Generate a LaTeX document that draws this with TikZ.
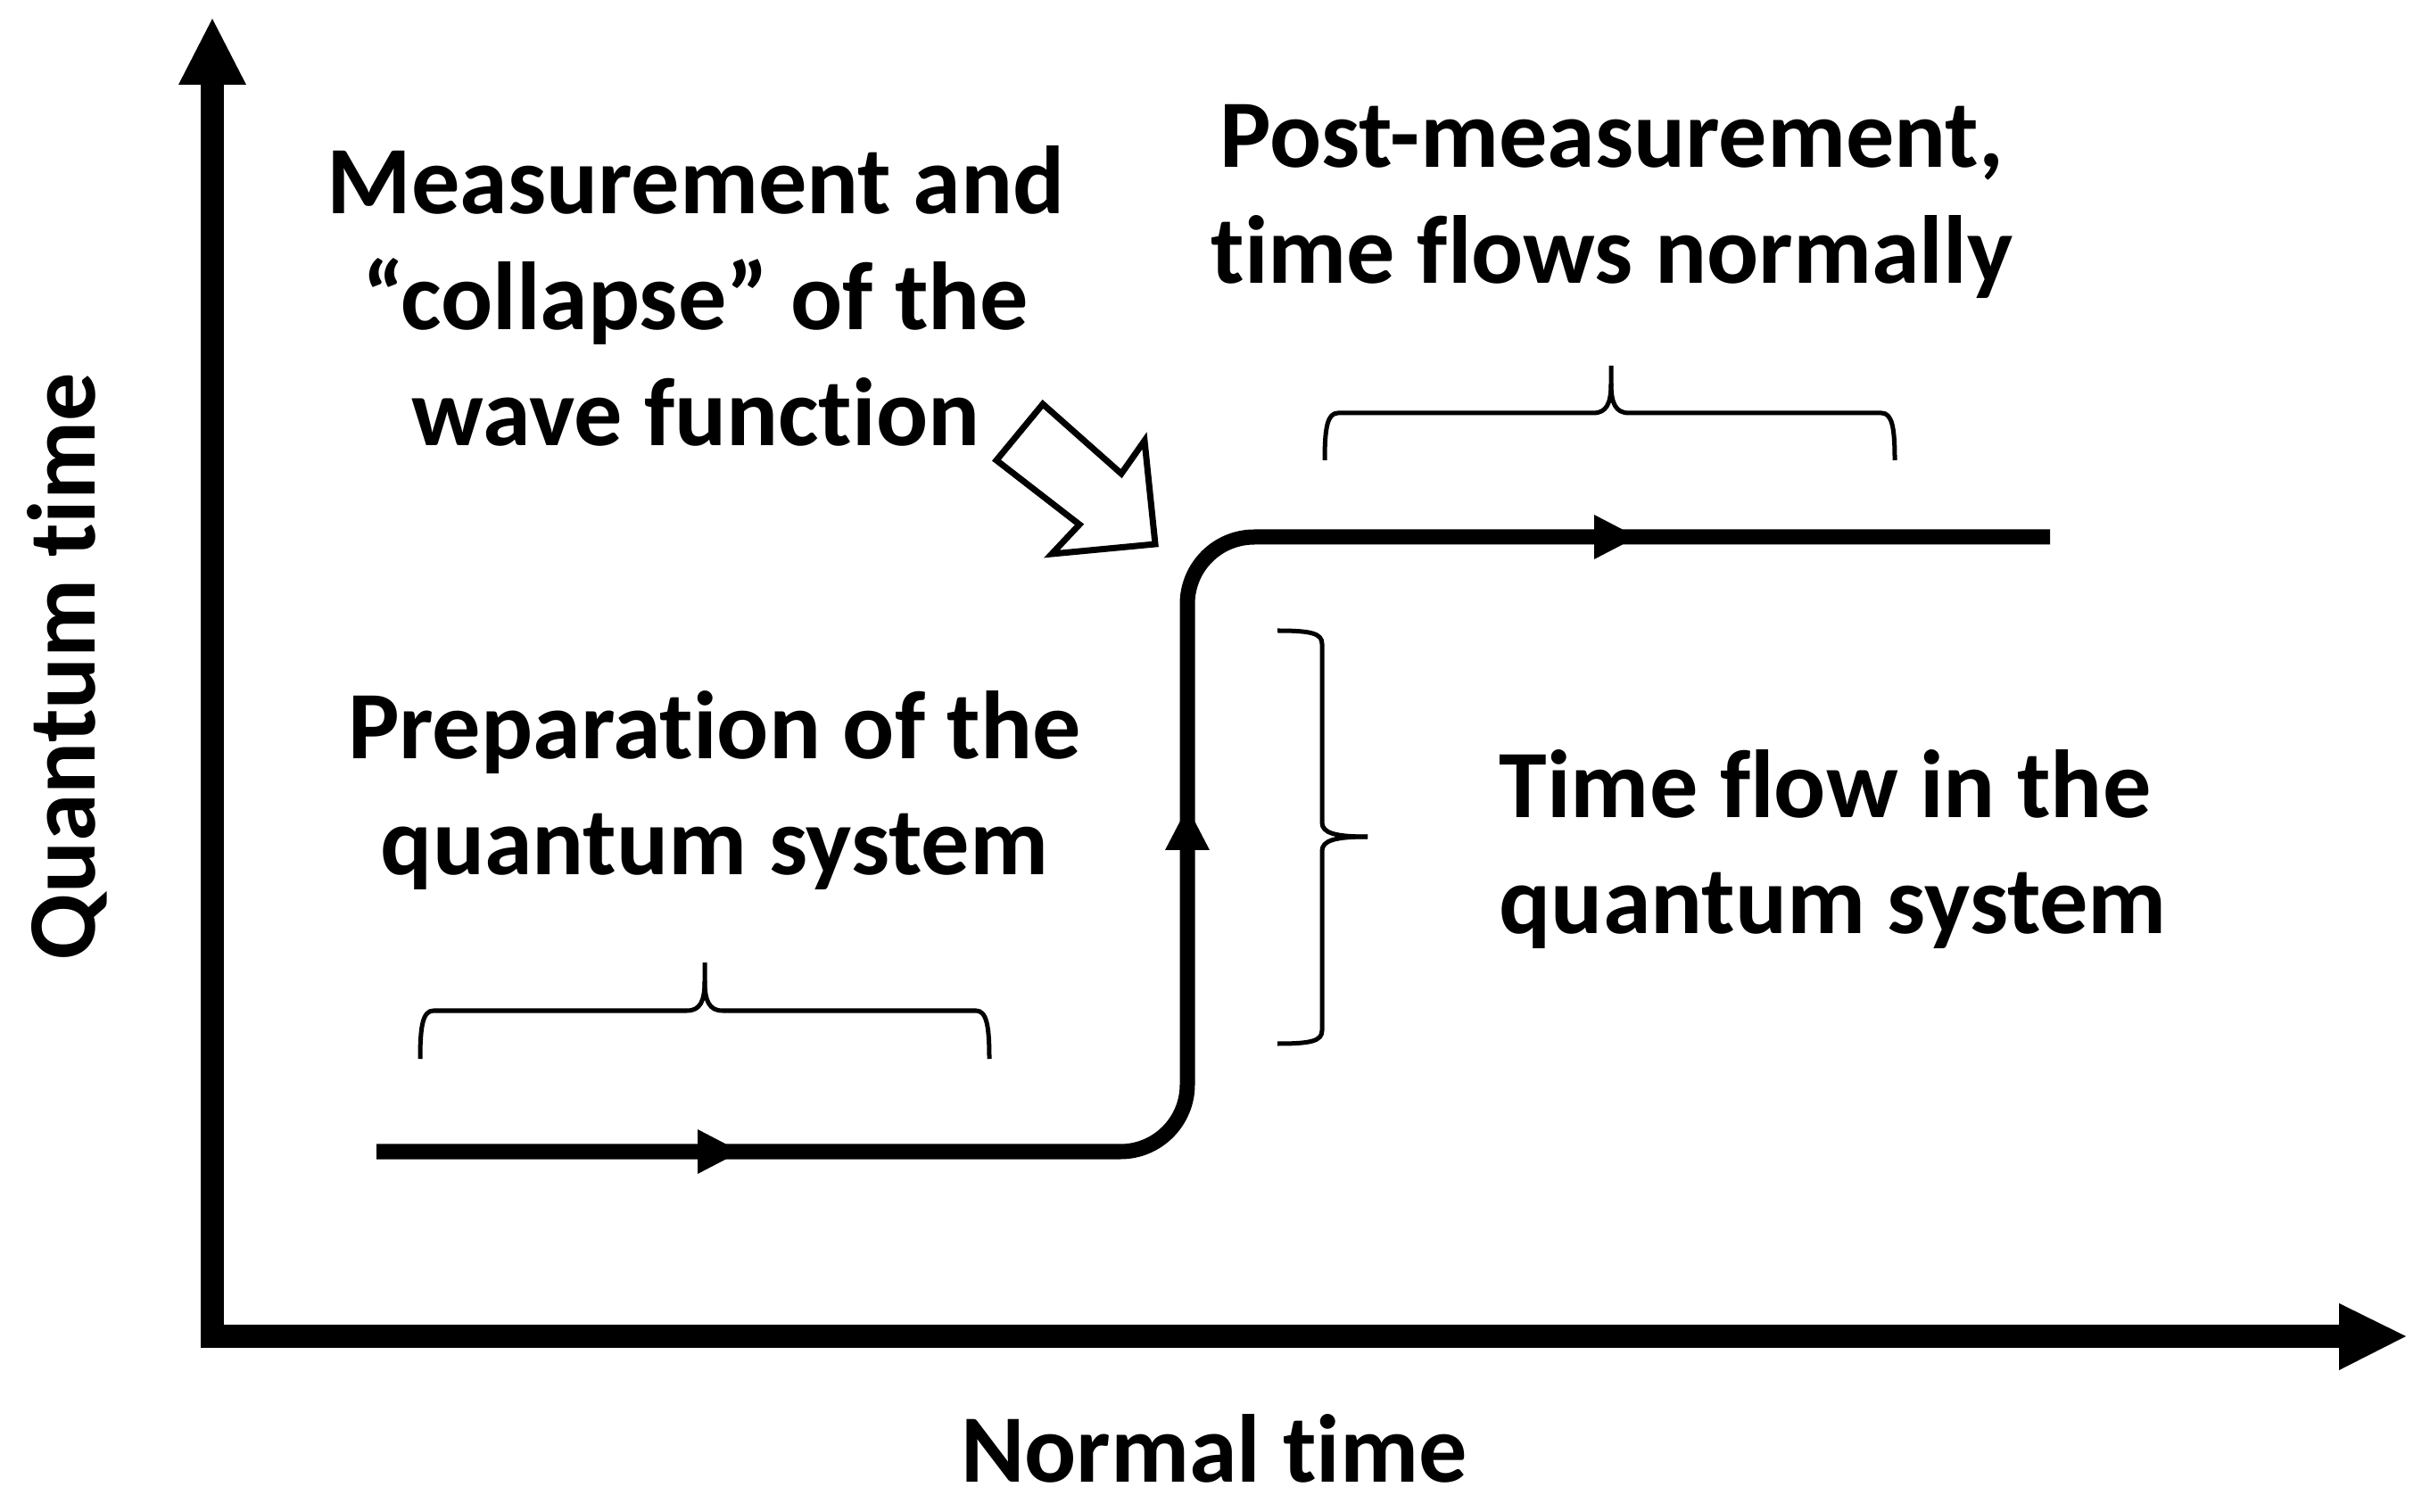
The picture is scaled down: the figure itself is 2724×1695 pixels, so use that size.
\documentclass[tikz,border=0pt]{standalone}
\usepackage{fontspec}
\setmainfont{Carlito}[Ligatures=NoCommon]
\usetikzlibrary{arrows.meta}
\tikzset{
  axisline/.style={line width=0.26cm, line join=miter},
  flowline/.style={line width=0.17cm, rounded corners=0.75cm},
  flowtip/.style={fill=black},
  bracepath/.style={line width=0.05cm},
  hollowarrow/.style={line width=0.07cm, line join=miter, fill=white},
  lbl/.style={font=\fontsize{30.8}{37}\selectfont\bfseries, inner sep=0pt},
}
\begin{document}
\begin{tikzpicture}[x=0.01cm, y=-0.01cm]
\useasboundingbox (0,0) rectangle (2724,1695);
% axes
\coordinate (ytop) at (238,21);
\coordinate (ybase) at (238,95);
\coordinate (orig) at (238,1498);
\coordinate (xbase) at (2622,1498);
\coordinate (xend) at (2697,1498);
\draw[axisline] (ybase) -- (orig) -- (xbase);
\fill (200,95) -- (ytop) -- (276,95) -- cycle;
\fill (2622,1461) -- (xend) -- (2622,1536) -- cycle;
% main flow curve
\coordinate (fstart) at (422,1291);
\coordinate (fc1) at (1331,1291);
\coordinate (fc2) at (1331,602);
\coordinate (fend) at (2298,602);
\draw[flowline] (fstart) -- (fc1) -- (fc2) -- (fend);
\fill[flowtip] (782,1266) -- (830,1291) -- (782,1316) -- cycle;
\fill[flowtip] (1306,953) -- (1331,905) -- (1356,953) -- cycle;
\fill[flowtip] (1787,577) -- (1835,602) -- (1787,627) -- cycle;
% braces
\draw[bracepath] (471,1187) .. controls (471,1150) and (474,1133) .. (486,1133) -- (770,1133)
  .. controls (785,1133) and (790,1122) .. (790,1100) -- (790,1079);
\draw[bracepath] (1109,1187) .. controls (1109,1150) and (1106,1133) .. (1094,1133) -- (810,1133)
  .. controls (795,1133) and (790,1122) .. (790,1100);
\draw[bracepath] (1485,516) .. controls (1485,479) and (1488,463) .. (1500,463) -- (1786,463)
  .. controls (1801,463) and (1806,452) .. (1806,430) -- (1806,410);
\draw[bracepath] (2124,516) .. controls (2124,479) and (2121,463) .. (2109,463) -- (1826,463)
  .. controls (1811,463) and (1806,452) .. (1806,430);
\draw[bracepath] (1432,707) .. controls (1470,707) and (1482,710) .. (1482,722) -- (1482,922)
  .. controls (1482,934) and (1497,938) .. (1533,938);
\draw[bracepath] (1432,1170) .. controls (1470,1170) and (1482,1167) .. (1482,1155) -- (1482,954)
  .. controls (1482,942) and (1497,938) .. (1533,938);
% hollow block arrow
\draw[hollowarrow] (1169,453) -- (1257,531) -- (1283,494) -- (1295,610) -- (1179,621) -- (1210,588) -- (1117,516) -- cycle;
% labels (base = baseline of the last line)
\node[lbl, anchor=base, align=center] (meas) at (780,500) {Measurement and\\“collapse” of the\\wave function};
\node[lbl, anchor=base, align=center] (post) at (1807,318) {Post-measurement,\\time flows normally};
\node[lbl, anchor=base, align=center] (prep) at (801,981) {Preparation of the\\quantum system};
\node[lbl, anchor=base west, align=left] (qflow) at (1680,1047) {Time flow in the\\quantum system};
\node[lbl, anchor=base] (xlab) at (1361,1661) {Normal time};
\node[lbl, anchor=base, rotate=90] (ylab) at (106,747) {Quantum time};
\end{tikzpicture}
\end{document}
